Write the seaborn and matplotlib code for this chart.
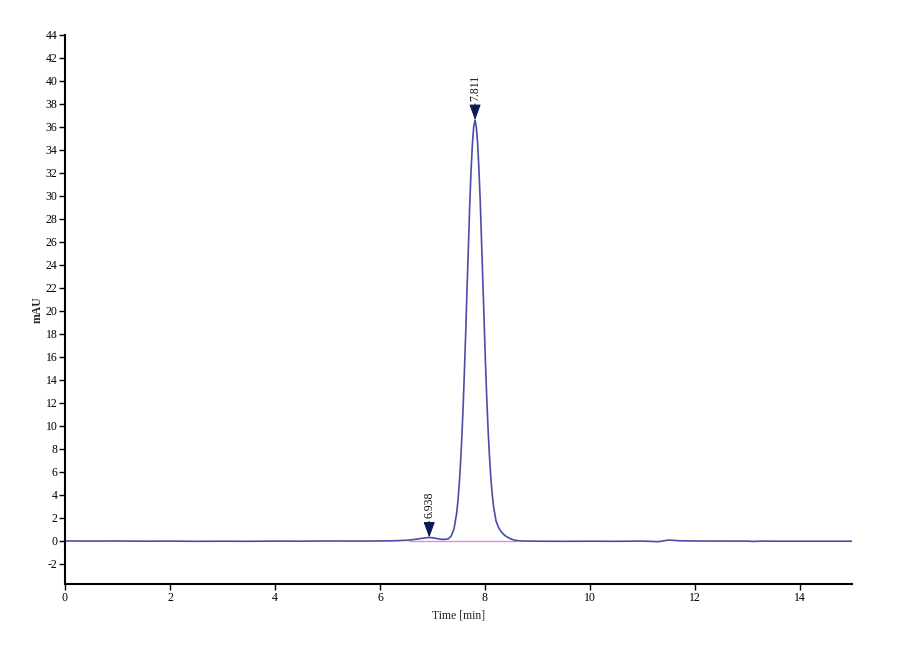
import matplotlib
matplotlib.use("Agg")
import matplotlib.pyplot as plt
import seaborn as sns
import pandas as pd

# ---- data ----
time_min = [0.0, 0.5, 1.0, 1.5, 2.0, 2.5, 3.0, 3.5, 4.0, 4.5, 5.0, 5.5, 6.0, 6.3,
            6.5, 6.6, 6.7, 6.8, 6.9, 6.94, 7.0, 7.1, 7.2, 7.3, 7.36, 7.41, 7.46,
            7.485, 7.51, 7.535, 7.56, 7.585, 7.61, 7.635, 7.66, 7.685, 7.71,
            7.735, 7.76, 7.785, 7.811, 7.835, 7.86, 7.885, 7.91, 7.935, 7.96,
            7.985, 8.01, 8.035, 8.06, 8.085, 8.11, 8.135, 8.16, 8.21, 8.26,
            8.31, 8.36, 8.41, 8.46, 8.51, 8.56, 8.61, 8.7, 9.0, 9.5, 10.0, 10.5,
            11.0, 11.3, 11.5, 11.7, 12.0, 12.5, 13.0, 13.1, 13.3, 13.5, 14.0,
            14.5, 15.0]
signal_mau = [0.0, -0.01, 0.0, -0.02, -0.01, -0.03, -0.02, -0.03, -0.01, -0.02,
              0.0, -0.01, 0.0, 0.02, 0.06, 0.1, 0.16, 0.23, 0.29, 0.3, 0.28, 0.2,
              0.13, 0.18, 0.45, 1.05, 2.4,
              3.5, 4.95, 6.8, 9.1, 11.8, 15.0, 18.4, 22.2, 25.7, 29.3,
              32.2, 34.5, 36.0, 36.6, 36.0, 34.6, 32.3, 29.5, 26.0, 22.5,
              18.9, 15.4, 12.3, 9.6, 7.4, 5.6, 4.2, 3.1, 1.75, 1.15,
              0.8, 0.55, 0.38, 0.25, 0.15, 0.08, 0.03, 0.0, -0.02, -0.03, -0.02,
              -0.03, -0.01, -0.06, 0.08, 0.02, 0.0, -0.01, -0.01, -0.04, -0.01,
              -0.02, -0.02, -0.02, -0.02]

peak_times = [6.938, 7.811]
peak_heights = [0.3, 36.6]
peak_labels = ["6.938", "7.811"]

baseline_starts = [6.55, 7.33]
baseline_ends = [7.33, 8.6]

x_ticks = [0, 2, 4, 6, 8, 10, 12, 14]
y_ticks = list(range(-2, 45, 2))

# ---- style ----
sns.set_theme(style="ticks")
plt.rcParams["font.family"] = ["Liberation Serif", "DejaVu Serif"]
plt.rcParams["axes.unicode_minus"] = False

fig = plt.figure(figsize=(9, 6.6), dpi=100)
ax = fig.add_axes([0.0722, 0.115, 0.875, 0.832])

df = pd.DataFrame({"Time [min]": time_min, "mAU": signal_mau})

# integration baselines
for s, e in zip(baseline_starts, baseline_ends):
    ax.plot([s, e], [0, 0], color="#e58ccf", lw=1.0, zorder=1)

sns.lineplot(data=df, x="Time [min]", y="mAU", ax=ax, color="#4b4ba8",
             lw=1.2, zorder=2)

for t, h, lab in zip(peak_times, peak_heights, peak_labels):
    ax.annotate(lab, xy=(t, h), xytext=(0, 14), textcoords="offset points",
                rotation=90, ha="center", va="bottom", fontsize=8.5,
                color="#111111",
                arrowprops=dict(arrowstyle="-|>,head_length=0.6,head_width=0.22",
                                mutation_scale=16, color="#0d1a5a",
                                shrinkA=0, shrinkB=0, lw=0.8))

ax.set_xlim(0, 15)
ax.set_ylim(-3.75, 44)
ax.set_xticks(x_ticks)
ax.set_yticks(y_ticks)
ax.tick_params(axis="both", labelsize=8.5, length=4, width=1.0, direction="out",
               colors="black", pad=1.5)
for side in ["top", "right"]:
    ax.spines[side].set_visible(False)
for side in ["left", "bottom"]:
    ax.spines[side].set_color("black")
    ax.spines[side].set_linewidth(1.5)

ax.set_xlabel("Time [min]", fontsize=8.5, labelpad=4)
ax.set_ylabel("mAU", fontsize=8.5, fontweight="bold", labelpad=1)
ax.grid(False)
ax.set_facecolor("white")
fig.patch.set_facecolor("white")

fig.savefig("out.png", dpi=100, facecolor="white")
